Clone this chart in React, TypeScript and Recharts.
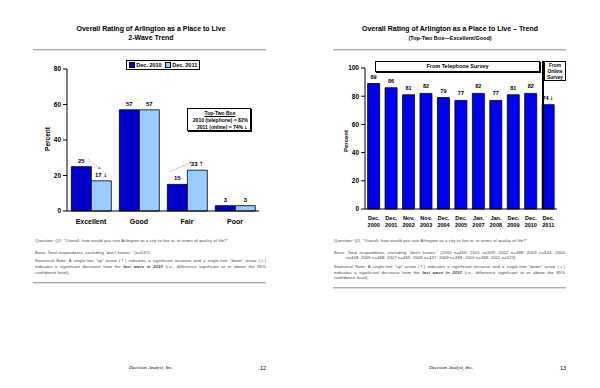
import React from 'react';
import { BarChart, Bar, XAxis, YAxis, LabelList } from 'recharts';

// 2-wave chart (left page)
const ratingCategories = ['Excellent', 'Good', 'Fair', 'Poor'];
const dec2010Values = [25, 57, 15, 3];
const dec2011Values = [17, 57, 23, 3];
const dec2011Flags = ['down', '', 'up', ''];
const waveTicks = [0, 20, 40, 60, 80];

// trend chart (right page)
const trendMonths = ['Dec.', 'Dec.', 'Nov.', 'Nov.', 'Dec.', 'Dec.', 'Jan.', 'Jan.', 'Dec.', 'Dec.', 'Dec.'];
const trendYears = ['2000', '2001', '2002', '2003', '2004', '2005', '2007', '2008', '2009', '2010', '2011'];
const trendValues = [89, 86, 81, 82, 79, 77, 82, 77, 81, 82, 74];
const trendFlags = ['', '', '', '', '', '', '', '', '', '', 'down'];
const trendTicks = [0, 20, 40, 60, 80, 100];

const SANS = '"Liberation Sans", Arial, sans-serif';
const ARROW_FONT = '"DejaVu Sans", sans-serif';
const DARK = '#0000CC';
const BRIGHT = '#0000F0';
const LIGHT = '#99CCFF';

const waveData = ratingCategories.map((name, i) => ({
  name,
  y2010: dec2010Values[i],
  y2011: dec2011Values[i],
}));

const trendData = trendYears.map((year, i) => ({
  key: `${trendMonths[i]} ${year}`,
  month: trendMonths[i],
  year,
  value: trendValues[i],
}));

const arrowFor = (flag: string) => (flag === 'down' ? '↓' : flag === 'up' ? '↑' : '');

function T({ x, y, size = 5, bold = false, anchor = 'middle', children, style = {} }: any) {
  const tx = anchor === 'middle' ? '-50%' : anchor === 'end' ? '-100%' : '0';
  return (
    <div
      style={{
        position: 'absolute',
        left: x,
        top: y,
        transform: `translate(${tx}, -50%)`,
        fontSize: size,
        fontWeight: bold ? 'bold' : 'normal',
        whiteSpace: 'nowrap',
        lineHeight: 1.1,
        ...style,
      }}
    >
      {children}
    </div>
  );
}

function Rule({ x, y, w }: any) {
  return (
    <div
      style={{
        position: 'absolute',
        left: x,
        top: y,
        width: w,
        height: 1,
        background: '#b0b0b0',
        boxShadow: '0 1px 0 #dcdcdc',
      }}
    />
  );
}

const Arr = ({ c }: any) => (
  <span style={{ fontFamily: ARROW_FONT, fontSize: '0.9em', lineHeight: 1, margin: '0 0.6px' }}>{c}</span>
);

const tickStyle = { fontSize: 6.5, fontWeight: 'bold', fill: '#000', fontFamily: SANS };

const renderWaveLabel = (props: any) => {
  const { x, y, width, height, value, index } = props;
  const cx = x + width / 2;
  const flag = dec2011Flags[index];
  const label = (
    <text x={cx} y={y - 4} textAnchor="middle" fontSize={6} fontWeight={600} fill="#000" fontFamily={SANS}>
      {value}
      <tspan fontFamily={ARROW_FONT} fontWeight="normal" dx={1}>{arrowFor(flag)}</tspan>
    </text>
  );
  if (!flag) return <g key={`l${index}`}>{label}</g>;
  const base = y + height;
  const prevTop = base - (dec2010Values[index] * height) / value;
  const prevCx = cx - width;
  let x1, y1, x2, y2;
  if (flag === 'down') {
    x1 = prevCx + 7; y1 = prevTop - 7;
    x2 = cx - 1; y2 = y - 12;
  } else {
    x1 = prevCx - 7; y1 = prevTop - 13;
    x2 = cx - 6; y2 = y - 8;
  }
  const ang = Math.atan2(y2 - y1, x2 - x1);
  const ah = 2.5;
  const p1x = x2 - ah * Math.cos(ang - 0.5);
  const p1y = y2 - ah * Math.sin(ang - 0.5);
  const p2x = x2 - ah * Math.cos(ang + 0.5);
  const p2y = y2 - ah * Math.sin(ang + 0.5);
  return (
    <g key={`l${index}`}>
      <line x1={x1} y1={y1} x2={x2} y2={y2} stroke="#666" strokeWidth={0.7} strokeDasharray="1 1" />
      <polyline points={`${p1x},${p1y} ${x2},${y2} ${p2x},${p2y}`} fill="none" stroke="#666" strokeWidth={0.6} />
      {label}
    </g>
  );
};

const renderTrendLabel = (props: any) => {
  const { x, y, width, value, index } = props;
  return (
    <text
      key={`t${index}`}
      x={x + width / 2}
      y={y - 5}
      textAnchor="middle"
      fontSize={5.5}
      fontWeight={600}
      fill="#000"
      fontFamily={SANS}
    >
      {value}
      <tspan fontFamily={ARROW_FONT} fontWeight="normal" dx={0.5}>{arrowFor(trendFlags[index])}</tspan>
    </text>
  );
};

const TrendTick = (props: any) => {
  const { x, y, index } = props;
  return (
    <text x={x} y={y} textAnchor="middle" fontSize={5.5} fontWeight="bold" fill="#000" fontFamily={SANS}>
      <tspan x={x} dy="0.9em">{trendMonths[index]}</tspan>
      <tspan x={x} dy="1.3em">{trendYears[index]}</tspan>
    </text>
  );
};

const noteStyle: any = {
  position: 'absolute',
  width: 231,
  fontSize: 4.2,
  letterSpacing: 0.12,
  color: '#444',
  lineHeight: '5.6px',
};

// one footnote line, stretched to the full width
const Line = ({ children, last = false, indent = 0 }: any) => (
  <div style={{ whiteSpace: 'nowrap', textAlign: 'justify', textAlignLast: last ? 'left' : 'justify', paddingLeft: indent }}>
    {children}
  </div>
);

const StatNote = () => (
  <div style={{ marginTop: 3 }}>
    <Line>Statistical Note: A single-line "up" arrow (<Arr c="↑" />) indicates a significant increase and a single-line "down" arrow (<Arr c="↓" />)</Line>
    <Line>indicates a significant decrease from the <b style={{ fontStyle: 'italic' }}>last wave in 2010</b> (i.e., difference significant at or above the 95%</Line>
    <Line last>confidence level).</Line>
  </div>
);

const Question = () => (
  <div style={{ whiteSpace: 'nowrap' }}>
    Question: Q1. "Overall, how would you rate Arlington as a city to live in, in terms of quality of life?"
  </div>
);

export default function App() {
  return (
    <div
      style={{
        position: 'fixed',
        left: 0,
        top: 0,
        width: 600,
        height: 388,
        background: '#fff',
        fontFamily: SANS,
        color: '#000',
        overflow: 'hidden',
      }}
    >
      {/* left page */}
      <T x={151} y={29} size={7} bold>Overall Rating of Arlington as a Place to Live</T>
      <T x={151} y={38} size={7} bold>2-Wave Trend</T>
      <Rule x={33} y={49} w={233} />

      <div style={{ position: 'absolute', left: 0, top: 0 }}>
        <BarChart width={300} height={240} data={waveData} margin={{ top: 69, right: 41, left: 47, bottom: 9 }} barCategoryGap="9%" barGap={0}>
          <XAxis dataKey="name" axisLine={{ stroke: '#000' }} tickLine={false} tickSize={4} tickMargin={4} height={20} tick={{ ...tickStyle, fontSize: 7 }} interval={0} />
          <YAxis domain={[0, 80]} ticks={waveTicks} width={20} tickSize={4} tickMargin={2} axisLine={{ stroke: '#000' }} tickLine={{ stroke: '#000' }} tick={tickStyle} />
          <Bar dataKey="y2010" fill={DARK} stroke="#000" strokeWidth={0.8} isAnimationActive={false}>
            <LabelList dataKey="y2010" position="top" offset={4} style={{ fontSize: 6, fontWeight: 600, fill: '#000', fontFamily: SANS }} />
          </Bar>
          <Bar dataKey="y2011" fill={LIGHT} stroke="#000" strokeWidth={0.8} isAnimationActive={false}>
            <LabelList dataKey="y2011" content={renderWaveLabel} />
          </Bar>
        </BarChart>
      </div>

      <T x={48} y={139} size={6.5} bold style={{ transform: 'translate(-50%, -50%) rotate(-90deg)' }}>Percent</T>

      <div
        style={{
          position: 'absolute',
          left: 126,
          top: 60,
          width: 72,
          height: 8,
          border: '1px solid #000',
          display: 'flex',
          alignItems: 'center',
          justifyContent: 'center',
          fontSize: 5.5,
          fontWeight: 'bold',
          whiteSpace: 'nowrap',
        }}
      >
        <span style={{ display: 'inline-block', width: 4, height: 4, background: DARK, border: '0.5px solid #000', marginRight: 1.5 }} />
        Dec. 2010
        <span style={{ display: 'inline-block', width: 4, height: 4, background: LIGHT, border: '0.5px solid #000', margin: '0 1.5px 0 3px' }} />
        Dec. 2011
      </div>

      <div
        style={{
          position: 'absolute',
          left: 187,
          top: 108,
          width: 64,
          height: 23,
          border: '1px solid #000',
          boxShadow: '1px 1px 0 #000',
          fontSize: 5,
          fontWeight: 'bold',
          lineHeight: '7px',
          textAlign: 'right',
          paddingRight: 2,
          boxSizing: 'border-box',
          paddingTop: 1,
        }}
      >
        <div style={{ textAlign: 'center', textDecoration: 'underline', paddingLeft: 4 }}>Top-Two Box</div>
        <div>2010 (telephone) = 82%</div>
        <div>2011 (online) = 74%<Arr c="↓" /></div>
      </div>

      <div style={{ ...noteStyle, left: 35, top: 238 }}>
        <Question />
        <div style={{ marginTop: 6, whiteSpace: 'nowrap' }}>Base: Total respondents, excluding "don't knows." (n=537)</div>
        <StatNote />
      </div>
      <Rule x={33} y={282} w={233} />
      <T x={151} y={368} size={5} style={{ fontFamily: '"Liberation Serif", serif', fontStyle: 'italic' }}>Decision Analyst, Inc.</T>
      <T x={263} y={368} size={5.5}>12</T>

      {/* right page */}
      <T x={450} y={29} size={7} bold>Overall Rating of Arlington as a Place to Live – Trend</T>
      <T x={450} y={38} size={5.5} style={{ fontWeight: 600 }}>(Top-Two Box—Excellent/Good)</T>
      <Rule x={333} y={49} w={233} />

      <div style={{ position: 'absolute', left: 300, top: 0 }}>
        <BarChart width={300} height={240} data={trendData} margin={{ top: 68, right: 43, left: 45, bottom: 9 }} barCategoryGap="15%">
          <XAxis dataKey="key" axisLine={{ stroke: '#000' }} tickLine={false} tickSize={3} tickMargin={3} height={22} tick={<TrendTick />} interval={0} />
          <YAxis domain={[0, 100]} ticks={trendTicks} width={20} tickSize={4} tickMargin={2} axisLine={{ stroke: '#000' }} tickLine={{ stroke: '#000' }} tick={tickStyle} />
          <Bar dataKey="value" fill={BRIGHT} stroke="#000" strokeWidth={0.8} isAnimationActive={false}>
            <LabelList dataKey="value" content={renderTrendLabel} />
          </Bar>
        </BarChart>
      </div>

      <T x={346} y={141} size={6} bold style={{ transform: 'translate(-50%, -50%) rotate(-90deg)' }}>Percent</T>

      <div
        style={{
          position: 'absolute',
          left: 375,
          top: 61,
          width: 163,
          height: 9,
          border: '1px solid #000',
          boxShadow: '1px 1px 0 #000',
          fontSize: 5.5,
          fontWeight: 600,
          textAlign: 'center',
          lineHeight: '9px',
        }}
      >
        From Telephone Survey
      </div>
      <div style={{ position: 'absolute', left: 542, top: 61, width: 1.5, height: 148, background: '#000' }} />
      <div
        style={{
          position: 'absolute',
          left: 544,
          top: 61,
          width: 22,
          height: 20,
          border: '1px solid #000',
          fontSize: 4.8,
          fontWeight: 600,
          textAlign: 'center',
          lineHeight: '6px',
          paddingTop: 1,
          boxSizing: 'border-box',
        }}
      >
        From
        <br />
        Online
        <br />
        Survey
      </div>

      <div style={{ ...noteStyle, left: 334, top: 238 }}>
        <Question />
        <div style={{ marginTop: 6 }}>
          <Line>Base: Total respondents, excluding "don't knows." (2000 n=456; 2001 n=503; 2002 n=498; 2003 n=504; 2004</Line>
          <Line last indent={12}>n=448; 2005 n=488; 2007 n=465; 2008 n=437; 2009 n=388; 2010 n=398; 2011 n=523)</Line>
        </div>
        <StatNote />
      </div>
      <Rule x={333} y={287} w={233} />
      <T x={451} y={368} size={5} style={{ fontFamily: '"Liberation Serif", serif', fontStyle: 'italic' }}>Decision Analyst, Inc.</T>
      <T x={563} y={368} size={5.5}>13</T>
    </div>
  );
}
